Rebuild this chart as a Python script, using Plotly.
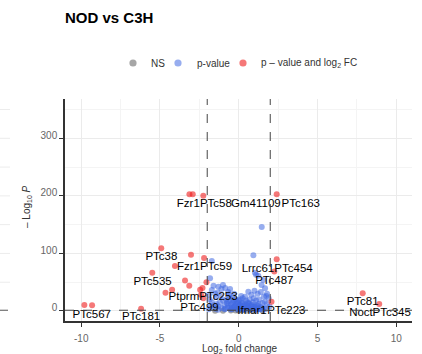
import plotly.graph_objects as go

# ---- data ----
ns_x = [-1.5, -1.0, -0.5, -0.2, 0.0, 0.2, 0.5, 1.0, 1.5]
ns_y = [0.2, 0.5, 0.8, 0.9, 0.3, 1.0, 0.6, 0.4, 0.7]

p_x = [1.46, 0.93, -1.71, 1.03, 1.24, 1.10, 1.56, 1.67, 1.45, 1.80, 1.90, 1.75,
       -1.82, -1.71, -1.29, -0.86, -0.67, -1.10, -1.50, -1.90, -1.60, -1.00, -0.55, -1.35, -1.85, -1.70,
       0.61, 0.40, 0.80, 1.00, 1.20, 1.40, 1.60, 1.30, 1.10, 0.90, 1.50, 1.80, 1.95,
       -1.80, -1.60, -1.40, -1.20, -1.00, -0.80, -0.60, -0.40, -0.20, 0.00, 0.20, 0.40, 0.60, 0.80,
       1.00, 1.20, 1.40, 1.60, -1.90, -1.50, -1.10, -0.70, -0.30, 0.10, 0.50, 0.90, 1.30, 1.70,
       -1.30, -0.90, -0.50, -0.10, 0.30, 0.70, 1.10, 1.50, -0.20, 0.10, 0.30, -0.50, -0.90, -1.30,
       0.60, 0.20, -0.05, -0.35, -0.15, 0.05, 0.45, 0.25, -0.60, -0.30, 0.15, 0.70,
       -1.45, -1.15, -0.75, 0.55, 0.95, 1.25, 1.65, -0.45, 0.35,
       -0.70, -0.40, -0.10, 0.20, 0.50, 0.80, 1.10, 1.40, -0.55, -0.25, 0.05, 0.35, 0.65,
       0.95, 1.25, -0.85, -0.45, 0.00, 0.40, 0.75, 1.05, 1.35, -0.30, 0.10, 0.55, 0.85,
       -0.65, -0.15, 0.25, 1.15]
p_y = [146, 97, 86.8, 66.5, 61, 63, 54, 39.4, 45, 30, 22, 26,
       56.8, 36.5, 42.2, 40, 33, 38, 30, 28, 44, 45, 38, 32, 20, 15,
       33.5, 24.8, 28, 35, 30, 33, 25, 20, 18, 15, 14, 12, 8,
       8, 10, 12, 15, 18, 20, 22, 24, 20, 18, 15, 12, 14, 10,
       8, 9, 7, 5, 3, 4, 5, 6, 7, 6, 5, 4, 3, 3,
       2, 3, 3, 2.5, 2, 2.5, 2, 2, 10, 11, 8, 12, 10, 8,
       7, 4, 14, 16, 5, 9, 18, 22, 28, 30, 26, 20,
       24, 26, 14, 9, 22, 12, 16, 6, 4,
       12, 14, 16, 13, 10, 8, 6, 5, 6, 8, 10, 9, 12,
       7, 4, 4, 3, 3.5, 3, 2, 3, 3.5, 18, 20, 15, 11,
       17, 12, 6, 10]

fc_x = [-9.80, -9.31, -6.20, -4.92, -3.03, -2.20, -4.05, -5.49, -3.41, -3.14, -2.05,
        -4.65, -4.23, -2.45, -2.39, -2.25, -2.30, -3.13, -2.92, -2.25,
        2.41, 2.41, 2.26, 2.08, 7.87, 8.92]
fc_y = [10.4, 9.9, 4.0, 109, 97.5, 92, 78, 66.5, 53, 43.7, 50,
        31.5, 36.8, 37, 28, 22, 40, 202.6, 202.6, 200,
        203, 90, 68.5, 16, 30.7, 12.2]

lab_text = ["Fzr1", "PTc58", "Gm41109", "PTc163", "PTc38", "Fzr1", "PTc59", "PTc535",
            "Ptprm", "PTc253", "PTc499", "PTc567", "PTc181", "Lrrc61", "PTc454", "PTc487",
            "Ifnar1", "PTc223", "PTc81", "Noct", "PTc345"]
lab_x = [-3.20, -1.45, 1.09, 3.94, -4.91, -3.19, -1.44, -5.47,
         -3.48, -1.29, -2.49, -9.33, -6.20, 1.22, 3.48, 2.26,
         0.84, 3.02, 7.87, 7.76, 9.71]
lab_y = [185, 185, 185, 185, 94.3, 76.4, 76.4, 50.3,
         23.8, 23.8, 4.7, -6.9, -10.4, 72.9, 72.9, 52.1,
         0, 0, 15.1, -3, -3]

x_ticks = [-10, -5, 0, 5, 10]
y_ticks = [0, 100, 200, 300]
fc_cut = 2
p_cut = 1.3

legend_names = ["NS", "p-value", "p – value and log<sub>2</sub> FC"]
legend_colors = ["rgba(77,77,77,0.5)", "rgba(65,105,225,0.55)", "rgba(238,30,30,0.6)"]

FONT = "Liberation Sans, Arial, sans-serif"

# plot-area geometry in pixels (for the hand-drawn legend and axis titles)
L, R, T, B = 65, 412, 99, 321
PW, PH = R - L, B - T


def px(x):
    return (x - L) / PW


def py(y):
    return (B - y) / PH


fig = go.Figure()
fig.add_trace(go.Scatter(x=ns_x, y=ns_y, mode="markers", name=legend_names[0], showlegend=False,
                         marker=dict(color=legend_colors[0], size=6)))
fig.add_trace(go.Scatter(x=p_x, y=p_y, mode="markers", name=legend_names[1], showlegend=False,
                         marker=dict(color=legend_colors[1], size=6)))
fig.add_trace(go.Scatter(x=fc_x, y=fc_y, mode="markers", name=legend_names[2], showlegend=False,
                         marker=dict(color=legend_colors[2], size=6)))
fig.add_trace(go.Scatter(x=lab_x, y=lab_y, mode="text", text=lab_text, showlegend=False,
                         textfont=dict(size=11.5, color="black", family=FONT),
                         textposition="middle center"))

# cutoff lines
for v in (-fc_cut, fc_cut):
    fig.add_shape(type="line", xref="x", yref="paper", x0=v, x1=v, y0=0, y1=1,
                  line=dict(color="#444", width=1, dash="dash"))
fig.add_shape(type="line", xref="paper", yref="y", x0=0, x1=1, y0=p_cut, y1=p_cut,
              line=dict(color="#444", width=1, dash="dash"))

# fragments of neighbouring panel at left edge
for gy in [50, 100, 150, 200, 250, 300, 350]:
    fig.add_shape(type="line", xref="paper", yref="y", x0=px(0), x1=px(10), y0=gy, y1=gy,
                  line=dict(color="#ececec", width=1))
fig.add_shape(type="line", xref="paper", yref="y", x0=px(0), x1=px(8), y0=p_cut, y1=p_cut,
              line=dict(color="#555", width=1))

# legend (drawn by hand to match spacing)
leg_mx = [133, 178, 243]
leg_tx = [149, 194.5, 259]
leg_y = 63
for mx, tx, name, col in zip(leg_mx, leg_tx, legend_names, legend_colors):
    fig.add_shape(type="circle", xref="paper", yref="paper",
                  x0=px(mx - 3.6), x1=px(mx + 3.6), y0=py(leg_y + 3.6), y1=py(leg_y - 3.6),
                  fillcolor=col, line=dict(width=0))
    fig.add_annotation(xref="paper", yref="paper", x=px(tx), y=py(leg_y), text=name,
                       showarrow=False, xanchor="left", yanchor="middle",
                       font=dict(size=10, color="#333", family=FONT))

# axis titles
fig.add_annotation(xref="paper", yref="paper", x=px(240), y=py(349),
                   text="Log<sub>2</sub> fold change", showarrow=False,
                   xanchor="center", yanchor="middle", font=dict(size=10, color="#333", family=FONT))
fig.add_annotation(xref="paper", yref="paper", x=px(27), y=py(207),
                   text="– Log<sub>10</sub> <i>P</i>", showarrow=False, textangle=-90,
                   xanchor="center", yanchor="middle", font=dict(size=10, color="#333", family=FONT))

fig.update_layout(
    width=422, height=354,
    margin=dict(l=L, r=422 - R, t=T, b=354 - B),
    paper_bgcolor="white", plot_bgcolor="white",
    font=dict(family=FONT, size=10, color="#333"),
    title=dict(text="<b>NOD vs C3H</b>", x=65/422, xanchor="left", xref="container",
               y=1 - 18/354, yanchor="middle", yref="container",
               font=dict(size=15, color="black", family=FONT)),
    showlegend=False,
)
fig.update_xaxes(range=[-11.03, 11.0], tickvals=x_ticks, ticktext=[str(v) for v in x_ticks],
                 automargin=False,
                 showline=True, linecolor="#333", linewidth=1.5, mirror=False,
                 ticks="outside", ticklen=4, tickcolor="#333", ticklabelstandoff=3,
                 tickfont=dict(size=10, color="#666"),
                 showgrid=True, gridcolor="#ebebeb", gridwidth=1, zeroline=False,
                 minor=dict(tickvals=[-7.5, -2.5, 2.5, 7.5], showgrid=True, gridcolor="#f4f4f4", gridwidth=0.6))
fig.update_yaxes(range=[-17.4, 368.3], tickvals=y_ticks, ticktext=[str(v) for v in y_ticks],
                 automargin=False,
                 showline=True, linecolor="#333", linewidth=1.5,
                 ticks="outside", ticklen=4, tickcolor="#333", ticklabelshift=-3,
                 tickfont=dict(size=10, color="#666"),
                 showgrid=True, gridcolor="#ebebeb", gridwidth=1, zeroline=False,
                 minor=dict(tickvals=[50, 150, 250, 350], showgrid=True, gridcolor="#f4f4f4", gridwidth=0.6))

fig.write_html("out.html")
